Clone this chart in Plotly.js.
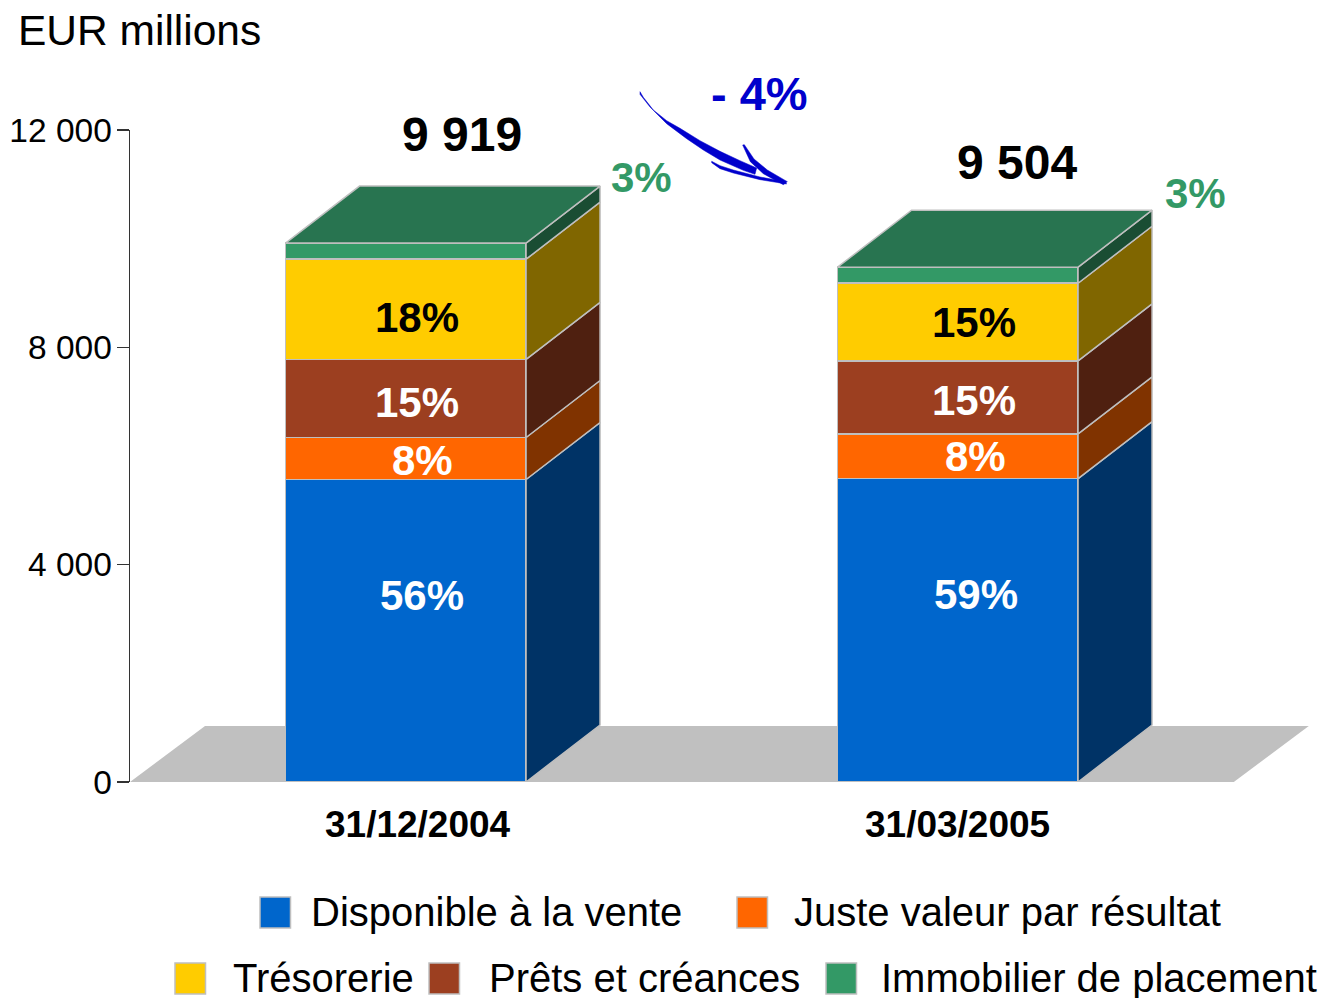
<!DOCTYPE html>
<html>
<head>
<meta charset="utf-8">
<script src="https://cdn.plot.ly/plotly-3.0.1.min.js"></script>
<style>html,body{margin:0;padding:0;background:#fff;overflow:hidden}</style>
</head>
<body>
<div id="chart" style="width:1319px;height:998px"></div>
<script>
// ---------- data ----------
const dates = ['31/12/2004', '31/03/2005'];
const totals = ['9 919', '9 504'];
const disponible = [5567, 5585];
const justeValeur = [774, 821];
const prets = [1438, 1345];
const tresorerie = [1843, 1429];
const immobilier = [297, 295];
const pctDisponible = ['56%', '59%'];
const pctJuste = ['8%', '8%'];
const pctPrets = ['15%', '15%'];
const pctTresorerie = ['18%', '15%'];
const pctImmobilier = ['3%', '3%'];
const seriesNames = ['Disponible à la vente', 'Juste valeur par résultat', 'Prêts et créances', 'Trésorerie', 'Immobilier de placement'];
const yTicks = [0, 4000, 8000, 12000];
const yTickText = ['0', '4 000', '8 000', '12 000'];
const change = '- 4%';

// ---------- styles / geometry ----------
const W = 1319, H = 998, mL = 130, mT = 130, mB = 216;
const plotW = W - mL, plotH = H - mT - mB;
const pxPerX = 552, x0Px = 405.8, pxPerY = plotH / 12000;
const FONT = '"Liberation Sans", Arial, sans-serif';
const edge = '#BFBFBF';
const front = ['#0066CC', '#FF6600', '#9C3F20', '#FFCC00', '#339966'];
const side = ['#003366', '#803300', '#4F2010', '#806600', '#1A4D33'];
const topColor = '#287450';
const barW = 240.5 / pxPerX, dX = 74 / pxPerX, dY = 57 / pxPerY;
const px = v => (v - mL) / plotW;
const py = v => 1 - (v - mT) / plotH;
const xRange = [(mL - x0Px) / pxPerX, (W - x0Px) / pxPerX];

const stack = [disponible, justeValeur, prets, tresorerie, immobilier];
const xs = dates.map((_, i) => i);
const traces = [];

stack.forEach((vals, s) => {
  traces.push({type: 'bar', x: xs, y: vals, width: barW, name: seriesNames[s], showlegend: false,
    marker: {color: front[s], line: {color: edge, width: 1.5}}, hoverinfo: 'skip'});
});
// side faces and the top face follow from the stacked values
xs.forEach(i => {
  let base = 0;
  const xr = i + barW / 2, xl = i - barW / 2;
  stack.forEach((vals, s) => {
    const t = base + vals[i];
    traces.push({type: 'scatter', mode: 'lines', fill: 'toself', fillcolor: side[s], showlegend: false, hoverinfo: 'skip',
      x: [xr, xr + dX, xr + dX, xr, xr], y: [base, base + dY, t + dY, t, base],
      line: {color: edge, width: 1.5}});
    base = t;
  });
  traces.push({type: 'scatter', mode: 'lines', fill: 'toself', fillcolor: topColor, showlegend: false, hoverinfo: 'skip',
    x: [xl, xl + dX, xr + dX, xr, xl], y: [base, base + dY, base + dY, base, base],
    line: {color: edge, width: 1.5}});
});

// ---------- annotations ----------
const txt = (x, y, text, size, color, bold, anchor) => ({
  xref: 'paper', yref: 'paper', x: px(x), y: py(y), text: bold ? '<b>' + text + '</b>' : text,
  showarrow: false, xanchor: anchor || 'center', yanchor: 'middle',
  font: {family: FONT, size, color}, borderpad: 0, borderwidth: 0
});
const annotations = [
  txt(18, 31, 'EUR millions', 42.5, '#000', false, 'left'),
  txt(461.5, 135, totals[0], 48, '#000', true),
  txt(1017.5, 162, totals[1], 48, '#000', true),
  txt(759.5, 93, change, 47, '#0000CC', true),
  txt(418, 824, dates[0], 37, '#000', true),
  txt(957.5, 824, dates[1], 37, '#000', true),
  txt(641, 177, pctImmobilier[0], 42, '#339966', true),
  txt(1195, 193, pctImmobilier[1], 42, '#339966', true),
  txt(417, 317, pctTresorerie[0], 42, '#000', true),
  txt(974, 322, pctTresorerie[1], 42, '#000', true),
  txt(417, 402, pctPrets[0], 42, '#fff', true),
  txt(974, 400, pctPrets[1], 42, '#fff', true),
  txt(422, 460, pctJuste[0], 42, '#fff', true),
  txt(975, 456, pctJuste[1], 42, '#fff', true),
  txt(422, 595, pctDisponible[0], 42, '#fff', true),
  txt(976, 594, pctDisponible[1], 42, '#fff', true)
];

// ---------- legend (two centred rows as in the reference) ----------
const legendRows = [
  {s: 0, box: 260, y: 912.5, ty: 911.5, label: 311},
  {s: 1, box: 737, y: 912.5, ty: 911.5, label: 794},
  {s: 3, box: 175, y: 978.5, ty: 978, label: 233},
  {s: 2, box: 429, y: 978.5, ty: 978, label: 489},
  {s: 4, box: 826, y: 978.5, ty: 978, label: 881}
];
const shapes = [];
legendRows.forEach(r => {
  annotations.push(txt(r.label, r.ty, seriesNames[r.s], 40, '#000', false, 'left'));
  shapes.push({type: 'rect', xref: 'paper', yref: 'paper', x0: px(r.box), x1: px(r.box + 30.5),
    y0: py(r.y - 15.5), y1: py(r.y + 15.5), fillcolor: front[r.s], line: {color: edge, width: 1.5}});
});

// ---------- floor ----------
const floorDX = 75 / pxPerX, floorDY = 56 / pxPerY;
shapes.push({type: 'path', xref: 'x', yref: 'y', layer: 'below', fillcolor: '#C0C0C0', line: {width: 0},
  path: `M ${xRange[0]} 0 L ${xRange[0] + floorDX} ${floorDY} L ${1.5 + floorDX} ${floorDY} L 1.5 0 Z`});

// ---------- hand-drawn arrow ----------
const strokes = [
  [[60,95],[70,112],[100,150],[140,182],[180,205],[240,242],[300,274],[360,302],[410,324],[405,343],[370,331],[300,300],[250,270],[200,236],[140,191],[90,141],[60,103]],
  [[275,304],[300,317],[340,330],[420,351],[495,365],[500,372],[420,359],[340,339],[300,326],[275,308]],
  [[368,255],[373,254],[402,297],[442,330],[502,365],[490,374],[430,341],[391,305]]
];
strokes.forEach(pts => {
  const path = pts.map((p, i) => (i ? 'L ' : 'M ') + px(620 + p[0] / 3) + ' ' + py(60 + p[1] / 3)).join(' ') + ' Z';
  shapes.push({type: 'path', xref: 'paper', yref: 'paper', path, fillcolor: '#0000CC', line: {color: '#0000CC', width: 0.5}});
});

const layout = {
  width: W, height: H,
  margin: {l: mL, r: 0, t: mT, b: mB, pad: 0},
  paper_bgcolor: '#fff', plot_bgcolor: '#fff',
  barmode: 'stack', showlegend: false,
  font: {family: FONT, color: '#000'},
  xaxis: {range: xRange, showgrid: false, zeroline: false, showline: false, showticklabels: false, ticks: '', fixedrange: true},
  yaxis: {range: [0, 12000], tickmode: 'array', tickvals: yTicks, ticktext: yTickText,
    showgrid: false, zeroline: false, showline: true, linecolor: '#333', linewidth: 1.5,
    ticks: 'outside', ticklen: 12, tickwidth: 1.5, tickcolor: '#333', ticklabelstandoff: -2,
    tickfont: {family: FONT, size: 33.5, color: '#000'}, fixedrange: true},
  annotations, shapes
};
Plotly.newPlot('chart', traces, layout, {displayModeBar: false, staticPlot: true});
</script>
</body>
</html>
